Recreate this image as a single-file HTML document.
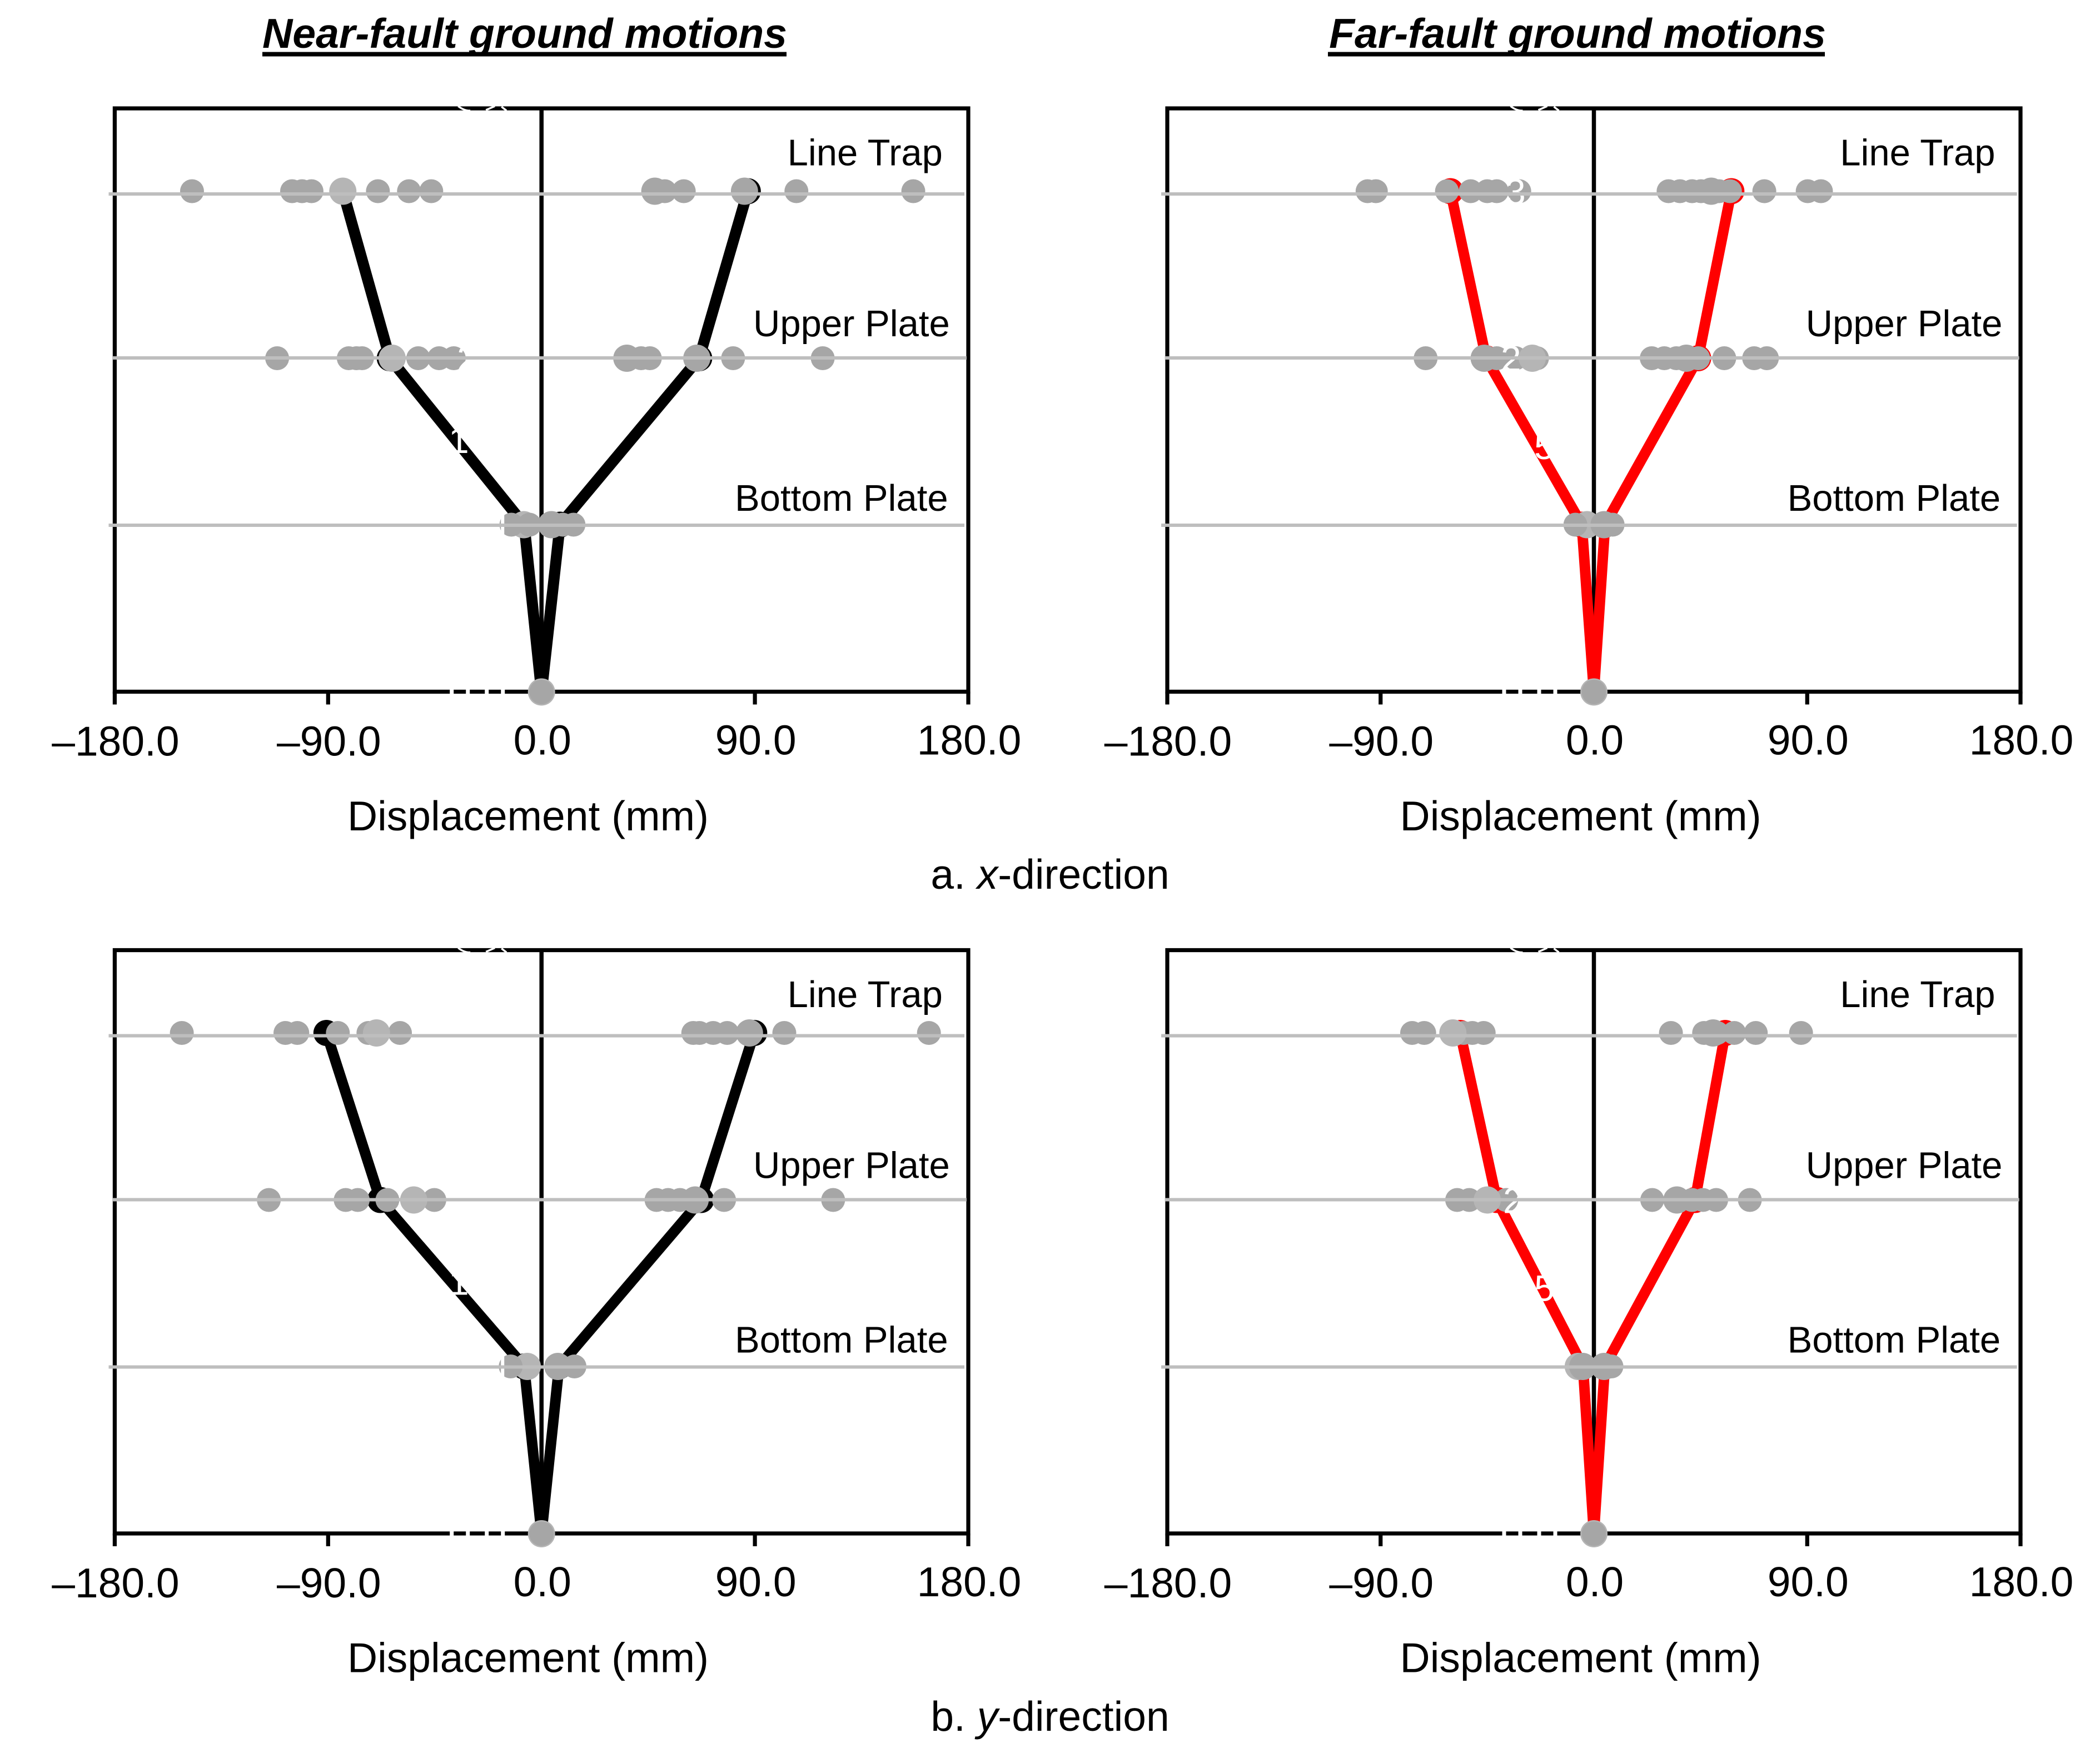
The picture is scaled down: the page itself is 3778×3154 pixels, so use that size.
<!DOCTYPE html>
<html lang="en">
<head>
<meta charset="utf-8">
<title>Near-fault and far-fault displacement profiles</title>
<style>
html,body{margin:0;padding:0;background:#fff;}
svg{display:block;font-family:"Liberation Sans",Arial,sans-serif;}
</style>
</head>
<body>
<svg id="figure" xmlns="http://www.w3.org/2000/svg" width="3778" height="3154" viewBox="0 0 3778 3154">
  <rect x="0" y="0" width="3778" height="3154" fill="#ffffff"/>
  <text x="944" y="86" font-size="75.2" font-weight="bold" font-style="italic" text-anchor="middle">Near-fault ground motions</text>
  <rect x="472" y="93.5" width="943" height="8"/>
  <text x="2838" y="86" font-size="75.2" font-weight="bold" font-style="italic" text-anchor="middle">Far-fault ground motions</text>
  <rect x="2389" y="93.5" width="894" height="8"/>
  <text x="1889" y="1599" font-size="75" text-anchor="middle">a. <tspan font-style="italic">x</tspan>-direction</text>
  <text x="1889" y="3114" font-size="75" text-anchor="middle">b. <tspan font-style="italic">y</tspan>-direction</text>
</svg>
<script>
// Shared axis data
const levelNames = ['Line Trap', 'Upper Plate', 'Bottom Plate'];
const tickValues = [-180, -90, 0, 90, 180];
const tickLabels = ['\u2013180.0', '\u201390.0', '0.0', '90.0', '180.0'];
const axisTitle = 'Displacement (mm)';

// Near-fault, x-direction (mm)
const nearXMeanNeg = [-83.8, -64, -7.3, 0];
const nearXMeanPos = [87, 66.5, 7.8, 0];
const nearXTrapDots = [-147.4, -105.2, -101, -97, -69, -55.9, -46.5, 52, 60, 107.5, 156.8];
const nearXTrapWide = [47.8, 85.6];
const nearXTrapPale = [-83.8];
const nearXUpperDots = [-111.5, -81.3, -78, -75.7, -52, -43.2, -37, 42, 45.7, 80.8, 118.6];
const nearXUpperWide = [36, 65.5];
const nearXUpperPale = [-63];
const nearXBottomDots = [-12.7, -5.1, 8.9, 13.5];
const nearXBottomWide = [4.2];
const nearXBottomPale = [-7.5];

// Far-fault, x-direction (mm)
const farXMeanNeg = [-60.5, -45.5, -5.1, 0];
const farXMeanPos = [58, 44, 4.7, 0];
const farXTrapDots = [-95.5, -92, -62, -52, -45, -41, -31.5, 31.5, 36.3, 41.4, 45.2, 52.8, 57.4, 71.9, 90.2, 95.8];
const farXTrapWide = [49.5];
const farXTrapPale = [];
const farXUpperDots = [-71, -41, -33, -24, 24.4, 29.7, 34.8, 44, 55, 67.6, 73];
const farXUpperWide = [-46.3, 39];
const farXUpperPale = [-26];
const farXBottomDots = [-7.8, 7.9];
const farXBottomWide = [4.3];
const farXBottomPale = [-2.9];

// Near-fault, y-direction (mm)
const nearYMeanNeg = [-90.7, -68, -7.3, 0];
const nearYMeanPos = [89.7, 67.3, 7.4, 0];
const nearYTrapDots = [-151.7, -108, -103, -85.9, -73, -59.7, 64, 66.6, 72.4, 78.3, 102.4, 163.4];
const nearYTrapWide = [87.7];
const nearYTrapPale = [-69.6];
const nearYUpperDots = [-115, -82.6, -77.5, -65, -45.2, 48.5, 53.4, 58.4, 77, 123];
const nearYUpperWide = [64.8];
const nearYUpperPale = [-53.9];
const nearYBottomDots = [-13, 13.9];
const nearYBottomWide = [6.9];
const nearYBottomPale = [-6];

// Far-fault, y-direction (mm)
const farYMeanNeg = [-56.4, -41, -4.6, 0];
const farYMeanPos = [55.4, 42.7, 4.6, 0];
const farYTrapDots = [-76.7, -71.6, -55, -51.3, -46.5, 32.5, 46.5, 52, 59.2, 68.3, 87.4];
const farYTrapWide = [50.3];
const farYTrapPale = [-59.5];
const farYUpperDots = [-57.7, -52.6, -37, 24.6, 41.4, 46, 51.6, 65.8];
const farYUpperWide = [35];
const farYUpperPale = [-45];
const farYBottomDots = [7.4];
const farYBottomWide = [-4.7, 4.3];
const farYBottomPale = [-6.6];

// Base support point shared by every panel (mm)
const baseDots = [0];
const basePale = [0];

const svg = document.getElementById('figure');
const NS = 'http://www.w3.org/2000/svg';
const DOT_COLOR = '#a6a6a6';
const PALE_COLOR = '#b5b5b5';
const LEVEL_LINE = '#bebebe';

function mk(tag, attrs, parent) {
  const el = document.createElementNS(NS, tag);
  for (const k in attrs) el.setAttribute(k, attrs[k]);
  (parent || svg).appendChild(el);
  return el;
}

const panels = [
  { id: 'near-x', left: 206.4, right: 1742, off: 0, color: '#000000', stroke: 20,
    meanNeg: nearXMeanNeg, meanPos: nearXMeanPos,
    dots: [nearXTrapDots, nearXUpperDots, nearXBottomDots],
    wide: [nearXTrapWide, nearXUpperWide, nearXBottomWide],
    pale: [nearXTrapPale, nearXUpperPale, nearXBottomPale],
    ghosts: [['1', 807, 815, '#ffffff'], ['2', 822, 668, '#ffffff']] },
  { id: 'far-x', left: 2100, right: 3635, off: 0, color: '#ff0000', stroke: 19,
    meanNeg: farXMeanNeg, meanPos: farXMeanPos,
    dots: [farXTrapDots, farXUpperDots, farXBottomDots],
    wide: [farXTrapWide, farXUpperWide, farXBottomWide],
    pale: [farXTrapPale, farXUpperPale, farXBottomPale],
    ghosts: [['5', 2760, 826, '#ffffff'], ['3', 2708, 368, '#ffffff'], ['2', 2700, 668, '#ffffff']] },
  { id: 'near-y', left: 206.4, right: 1742, off: 1514.5, color: '#000000', stroke: 19,
    meanNeg: nearYMeanNeg, meanPos: nearYMeanPos,
    dots: [nearYTrapDots, nearYUpperDots, nearYBottomDots],
    wide: [nearYTrapWide, nearYUpperWide, nearYBottomWide],
    pale: [nearYTrapPale, nearYUpperPale, nearYBottomPale],
    ghosts: [['1', 807, 815, '#ffffff']] },
  { id: 'far-y', left: 2100, right: 3635, off: 1514.5, color: '#ff0000', stroke: 19,
    meanNeg: farYMeanNeg, meanPos: farYMeanPos,
    dots: [farYTrapDots, farYUpperDots, farYBottomDots],
    wide: [farYTrapWide, farYUpperWide, farYBottomWide],
    pale: [farYTrapPale, farYUpperPale, farYBottomPale],
    ghosts: [['5', 2760, 826, '#ffffff'], ['2', 2704, 668, '#ffffff']] }
];

// Vertical axis: level index to pixel row in the upper panel layout
function levelRow(i) { return [344, 644.5, 944, 1245][i]; }
function levelLineRow(i) { return [349, 644, 945][i]; }
const labelBaselines = [297.5, 605, 919];
const labelStarts = [1420.6, 1359, 1326];
const lineStarts = [195.5, 202, 195.5];
const lineEnds = [1735, 1739, 1735];

panels.forEach(function (p) {
  const g = mk('g', {});
  
  

  const xScale = function (v) { return p.left + (v + 180) / 360 * (p.right - p.left); };
  const yScale = function (i) { return levelRow(i) + p.off; };
  const shiftX = p.left - 206.4;
  const top = 195 + p.off;
  const bottom = 1244.5 + p.off;
  const zero = xScale(0);

  // Spines
  const frame = mk('path', {
    d: 'M' + p.left + ' ' + bottom + 'V' + top + 'H' + p.right + 'V' + bottom + 'Z',
    fill: 'none', stroke: '#000', 'stroke-width': 7.2
  }, g);
  
  

  const zeroLine = mk('line', { x1: zero, x2: zero, y1: top, y2: bottom, stroke: '#000', 'stroke-width': 7.5 }, g);
  
  

  // Ticks and tick labels
  tickValues.forEach(function (v, i) {
    const t = mk('line', { x1: xScale(v), x2: xScale(v), y1: bottom, y2: bottom + 23, stroke: '#000', 'stroke-width': 7.2 }, g);
    
    
    const lab = mk('text', {
      x: xScale(v) + 1.5, y: 1357.5 + p.off + (v < 0 ? 2 : 0),
      'font-size': 75, 'text-anchor': 'middle', fill: '#000'
    }, g);
    lab.textContent = tickLabels[i];
    
    
  });

  const title = mk('text', { x: 950 + shiftX, y: 1494 + p.off, 'font-size': 75, 'text-anchor': 'middle', fill: '#000' }, g);
  title.textContent = axisTitle;
  
  

  // Gaps where hidden labels knock through the base axis
  [-165, -136, -102, -73].forEach(function (dx) {
    const gap = mk('rect', { x: zero + dx, y: bottom - 5, width: 7, height: 10, fill: '#fff' }, g);
    
    
  });
  const spineMark = mk('path', {
    d: 'M' + (zero - 150) + ' ' + (top - 4) + 'q12 9 22 8M' + (zero - 100) + ' ' + (top + 3) + 'l16 -7M' + (zero - 72) + ' ' + (top - 3) + 'l9 7',
    fill: 'none', stroke: '#fff', 'stroke-width': 3.5
  }, g);
  
  

  // Mean envelope lines
  [p.meanNeg, p.meanPos].forEach(function (series, s) {
    const pts = series.map(function (v, i) { return xScale(v) + ',' + yScale(i); }).join(' ');
    const line = mk('polyline', { points: pts, fill: 'none', stroke: p.color, 'stroke-width': p.stroke, 'stroke-linejoin': 'round' }, g);
    
    
    series.slice(0, 3).forEach(function (v, i) {
      const m = mk('circle', { cx: xScale(v), cy: yScale(i), r: 23.5, fill: p.color }, g);
      
      
    });
  });

  function drawDots(values, i, r, fill, name) {
    values.forEach(function (v) {
      const c = mk('circle', { cx: xScale(v), cy: yScale(i), r: r, fill: fill }, g);
      
      
    });
  }

  // Individual record points
  [0, 1, 2].forEach(function (i) {
    if (i === 2) drawDots(p.pale[i], i, 24.5, PALE_COLOR, 'record-point-pale');
    drawDots(p.wide[i], i, 24.5, DOT_COLOR, 'record-point-wide');
    drawDots(p.dots[i], i, 21.5, DOT_COLOR, 'record-point');
    if (i !== 2) drawDots(p.pale[i], i, 24.5, PALE_COLOR, 'record-point-pale');
  });
  drawDots(basePale, 3, 24.5, PALE_COLOR, 'base-point-outer');
  drawDots(baseDots, 3, 22, DOT_COLOR, 'base-point');

  // Hidden white labels that show through the marks
  const cut = mk('rect', { x: zero - 73, y: 922 + p.off, width: 6, height: 46, fill: '#fff' }, g);
  
  
  p.ghosts.forEach(function (gh) {
    const t = mk('text', { x: gh[1], y: gh[2] + p.off, 'font-size': 66, fill: gh[3] }, g);
    t.textContent = gh[0];
    
    
  });

  // Level guide lines and labels
  levelNames.forEach(function (name, i) {
    const l = mk('line', {
      x1: lineStarts[i] + shiftX, x2: lineEnds[i] + shiftX,
      y1: levelLineRow(i) + p.off, y2: levelLineRow(i) + p.off,
      stroke: LEVEL_LINE, 'stroke-width': 6
    }, g);
    
    
    const t = mk('text', { x: labelStarts[i] + shiftX - 4, y: labelBaselines[i] + p.off, 'font-size': 67, fill: '#000' }, g);
    t.textContent = name;
    
    
  });
});
</script>
</body>
</html>
